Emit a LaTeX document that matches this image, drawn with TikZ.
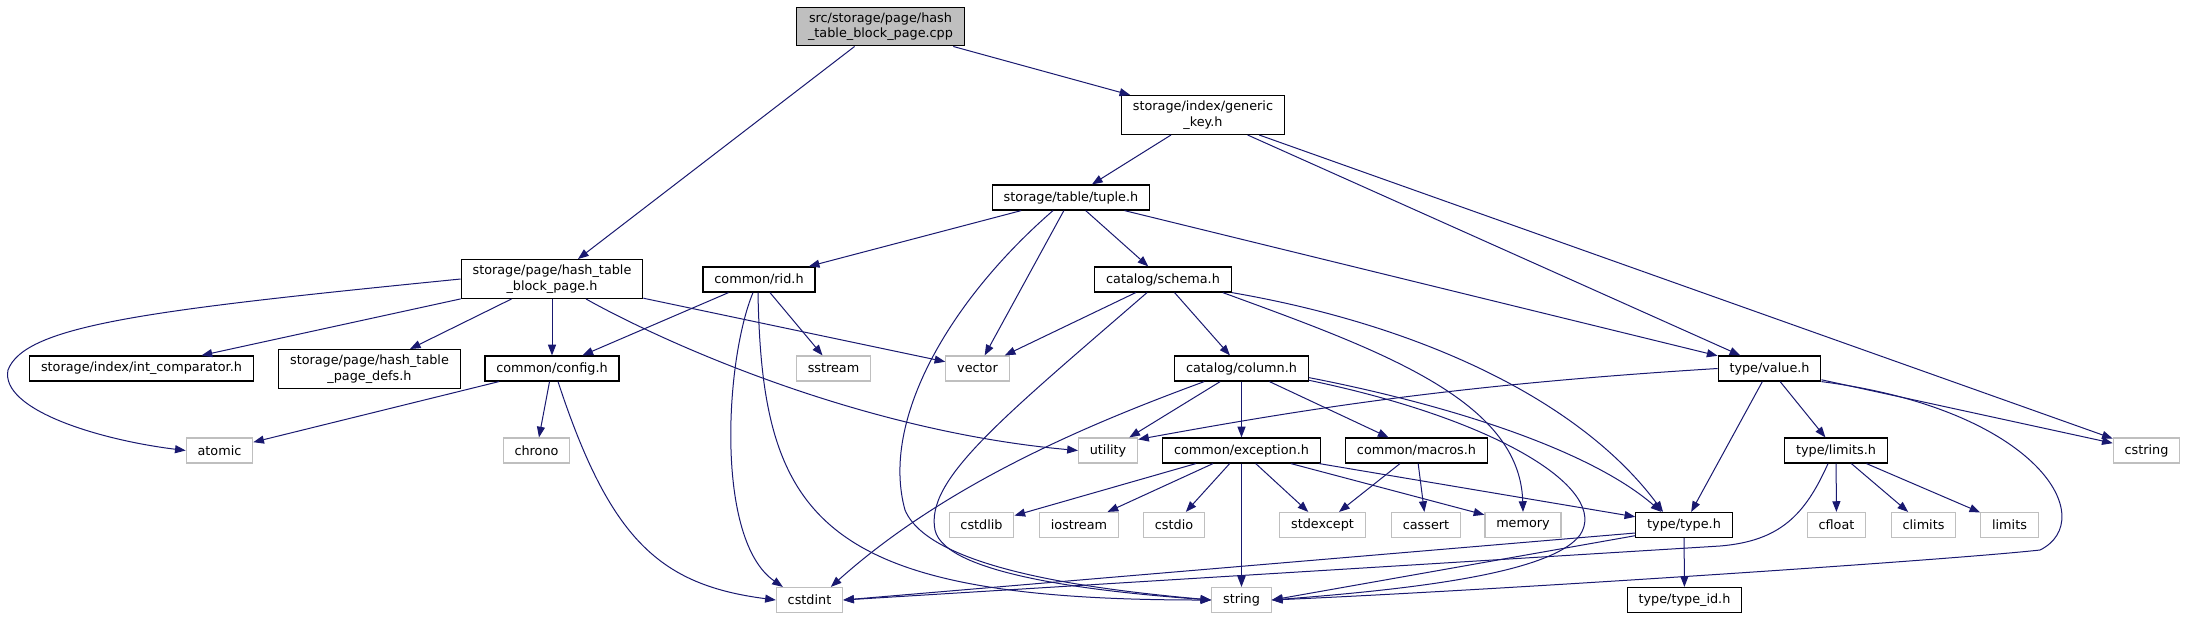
\documentclass[tikz,border=0pt]{standalone}
\usepackage{fontspec}
\setmainfont{DejaVu Sans}
\usetikzlibrary{arrows.meta}
\definecolor{edgeblue}{HTML}{191970}
\definecolor{extgray}{HTML}{BFBFBF}

\begin{document}
\begin{tikzpicture}[x=0.75pt,y=-0.75pt,
  font=\fontsize{9.6}{11.5}\selectfont,
  box/.style={draw=black,line width=0.9pt,fill=white,align=center,
              inner xsep=8.5pt,inner ysep=4pt,minimum height=18.75pt},
  ext/.style={box,draw=extgray},
  root/.style={box,fill=extgray},
  ar/.style={draw=edgeblue,line width=0.75pt,-{Triangle[length=8pt,width=6pt]}}]
\fill[white] (0,0) rectangle (2186,619);
\useasboundingbox (0,0) rectangle (2186,619);

\node[root] (src) at (880.5,26.5) {src/storage/page/hash\\\_table\_block\_page.cpp};
\node[box] (gkey) at (1203,115) {storage/index/generic\\\_key.h};
\node[box] (tuple) at (1071,197.5) {storage/table/tuple.h};
\node[box] (hblk) at (552,279) {storage/page/hash\_table\\\_block\_page.h};
\node[box] (rid) at (759,279.5) {common/rid.h};
\node[box] (schema) at (1163,279.5) {catalog/schema.h};
\node[box] (icmp) at (141.5,368.5) {storage/index/int\_comparator.h};
\node[box] (pdefs) at (369.5,369) {storage/page/hash\_table\\\_page\_defs.h};
\node[box] (config) at (552,368.5) {common/config.h};
\node[ext] (sstream) at (833.5,368.5) {sstream};
\node[ext] (vector) at (977.5,368.5) {vector};
\node[box] (column) at (1241.5,368.5) {catalog/column.h};
\node[box] (value) at (1769.5,368.5) {type/value.h};
\node[ext] (atomic) at (219.5,450.5) {atomic};
\node[ext] (chrono) at (536.5,450.5) {chrono};
\node[ext] (utility) at (1108,450.5) {utility};
\node[box] (except) at (1241.5,450.5) {common/exception.h};
\node[box] (macros) at (1416.5,450.5) {common/macros.h};
\node[box] (tlimits) at (1836,450.5) {type/limits.h};
\node[ext] (cstring) at (2146.5,450.5) {cstring};
\node[ext] (cstdlib) at (981.5,525) {cstdlib};
\node[ext] (iostream) at (1079,525) {iostream};
\node[ext] (cstdio) at (1174,525) {cstdio};
\node[ext] (stdexcept) at (1322.5,525) {stdexcept};
\node[ext] (cassert) at (1426,525) {cassert};
\node[ext] (memory) at (1523,525) {memory};
\node[box] (ttype) at (1684,525) {type/type.h};
\node[ext] (cfloat) at (1836.5,525) {cfloat};
\node[ext] (climits) at (1923.5,525) {climits};
\node[ext] (limits) at (2009.5,525) {limits};
\node[ext] (cstdint) at (809.5,600) {cstdint};
\node[ext] (string) at (1241.5,600) {string};
\node[box] (typeid) at (1684.5,600) {type/type\_id.h};

\draw[ar] (src)--(hblk); \draw[ar] (src)--(gkey);
\draw[ar] (gkey)--(tuple); \draw[ar] (gkey)--(value); \draw[ar] (gkey)--(cstring);
\draw[ar] (tuple)--(rid); \draw[ar] (tuple)--(vector); \draw[ar] (tuple)--(schema); \draw[ar] (tuple)--(value);
\draw[ar] ([xshift=-13.5pt]tuple.south) .. controls (950,300) and (880,420) .. (905,510)
  .. controls (930,570) and (1100,590) .. (string.west);
\draw[ar] (hblk.west) .. controls (150,310) and (25,325) .. (8,370)
  .. controls (0,410) and (100,440) .. (atomic.west);
\draw[ar] (hblk)--(icmp); \draw[ar] (hblk)--(pdefs); \draw[ar] (hblk)--(config); \draw[ar] (hblk)--(vector);
\draw[ar] ([xshift=25.5pt]hblk.south) .. controls (650,335) and (850,430) .. (utility.west);
\draw[ar] (rid)--(config); \draw[ar] (rid)--(sstream);
\draw[ar] ([xshift=-4.5pt]rid.south) .. controls (725,360) and (715,540) .. ([xshift=-20pt]cstdint.north);
\draw[ar] ([xshift=-0.75pt]rid.south) .. controls (762,520) and (820,600) .. (string.west);
\draw[ar] (schema)--(vector); \draw[ar] (schema)--(column);
\draw[ar] ([xshift=-12pt]schema.south) .. controls (1000,420) and (925,480) .. (935,530)
  .. controls (945,575) and (1100,592) .. (string.west);
\draw[ar] ([xshift=-6.75pt]schema.south east) .. controls (1380,350) and (1520,400) .. (memory.north);
\draw[ar] (schema.south east) .. controls (1420,325) and (1580,400) .. ([xshift=-15.75pt]ttype.north);
\draw[ar] (config)--(atomic); \draw[ar] (config)--(chrono);
\draw[ar] ([xshift=4.5pt]config.south) .. controls (610,540) and (660,585) .. (cstdint.west);
\draw[ar] ([xshift=-28pt]column.south) .. controls (1100,420) and (950,480) .. ([xshift=16pt]cstdint.north);
\draw[ar] (column)--(utility); \draw[ar] (column)--(except); \draw[ar] (column)--(macros);
\draw[ar] ([yshift=3pt]column.south east) .. controls (1450,405) and (1590,450) .. ([xshift=-17pt]ttype.north);
\draw[ar] ([yshift=1pt]column.south east) .. controls (1500,420) and (1610,490) .. (1580,535)
  .. controls (1550,575) and (1400,590) .. (string.east);
\draw[ar] (value.west) .. controls (1450,385) and (1300,410) .. ([yshift=-1.5pt]utility.north east);
\draw[ar] (value)--(ttype); \draw[ar] (value)--(tlimits); \draw[ar] (value)--(cstring);
\draw[ar] (value.south east) .. controls (2040,410) and (2100,520) .. (2040,550)
  .. controls (1950,560) and (1500,590) .. (string.east);
\draw[ar] (except)--(cstdlib); \draw[ar] (except)--(iostream); \draw[ar] (except)--(cstdio);
\draw[ar] (except)--(string); \draw[ar] (except)--(stdexcept); \draw[ar] (except)--(memory);
\draw[ar] (except)--(ttype);
\draw[ar] (macros)--(stdexcept); \draw[ar] (macros)--(cassert);
\draw[ar] ([xshift=-6pt]tlimits.south) .. controls (1805,515) and (1780,541) .. (1720,546) -- (cstdint.east);
\draw[ar] (tlimits)--(cfloat); \draw[ar] (tlimits)--(climits); \draw[ar] (tlimits)--(limits);
\draw[ar] ([yshift=-6pt]ttype.west)--(cstdint.east);
\draw[ar] ([yshift=-8pt]ttype.west)--(string.east);
\draw[ar] (ttype)--(typeid);
\end{tikzpicture}
\end{document}
